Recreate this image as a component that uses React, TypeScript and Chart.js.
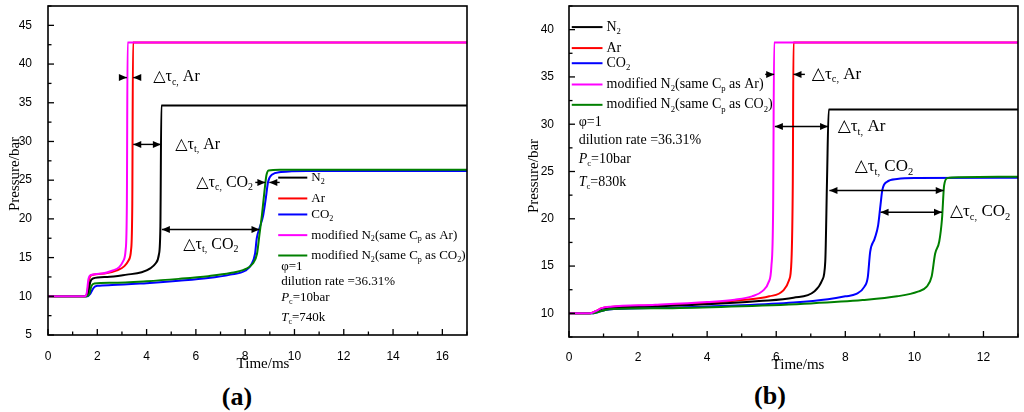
import { useEffect, useRef } from 'react';
import { Chart, registerables } from 'chart.js';

Chart.register(...registerables);

type Pt = [number, number];
type Seg = [string, ('s' | 'i')?];

const SERIF = "'Liberation Serif', 'Times New Roman', 'DejaVu Serif', serif";
const SANS = "'Liberation Sans', Arial, sans-serif";

// legend order: N2, Ar, CO2, modified N2 (Cp of Ar), modified N2 (Cp of CO2)
const seriesColors = ['#000000', '#ff0000', '#0000ff', '#ff00ff', '#008000'];
const legendLabels: Seg[][] = [
  [['N'], ['2', 's']],
  [['Ar']],
  [['CO'], ['2', 's']],
  [['modified N'], ['2', 's'], ['(same C'], ['p', 's'], [' as Ar)']],
  [['modified N'], ['2', 's'], ['(same C'], ['p', 's'], [' as CO'], ['2', 's'], [')']],
];
// first index is drawn on top
const drawOrder = [3, 4, 0, 1, 2];

// (a) Tc = 740 K, time in ms, pressure in bar
const aXTicks = [0, 2, 4, 6, 8, 10, 12, 14, 16];
const aYTicks = [5, 10, 15, 20, 25, 30, 35, 40, 45];
const aN2: Pt[] = [[0, 10], [1.55, 10], [1.64, 10.5], [1.71, 11.8], [1.82, 12.3], [2.4, 12.5], [3.2, 12.8], [3.8, 13.1], [4.15, 13.6], [4.38, 14.3], [4.5, 15.4], [4.56, 19], [4.6, 34.65], [17, 34.65]];
const aAr: Pt[] = [[0, 10], [1.5, 10], [1.59, 10.4], [1.67, 12.2], [1.78, 12.75], [2.3, 12.95], [2.8, 13.35], [3.1, 13.9], [3.28, 14.7], [3.37, 16], [3.42, 22], [3.45, 42.8], [17, 42.8]];
const aCO2: Pt[] = [[0, 10], [1.6, 10], [1.72, 10.35], [1.85, 11.1], [2.0, 11.35], [2.6, 11.45], [4, 11.7], [5.3, 12.0], [6.5, 12.35], [7.4, 12.8], [8, 13.3], [8.25, 14.1], [8.4, 15.5], [8.47, 17.5], [8.58, 18.8], [8.72, 20.3], [8.83, 22.5], [8.93, 24.8], [9.08, 25.7], [9.45, 26.05], [10.5, 26.2], [17, 26.2]];
const aModAr: Pt[] = [[0, 10], [1.48, 10], [1.57, 10.4], [1.64, 12.2], [1.74, 12.75], [2.2, 12.95], [2.6, 13.3], [2.9, 13.8], [3.06, 14.6], [3.15, 16], [3.2, 22], [3.23, 42.8], [17, 42.8]];
const aModCO2: Pt[] = [[0, 10], [1.58, 10], [1.68, 10.3], [1.76, 11.3], [1.88, 11.65], [2.6, 11.75], [4, 11.95], [5.3, 12.25], [6.5, 12.6], [7.4, 13], [8, 13.5], [8.3, 14.2], [8.48, 15.5], [8.58, 18], [8.68, 20.5], [8.78, 23.5], [8.86, 25.6], [8.95, 26.25], [9.4, 26.35], [17, 26.35]];

// (b) Tc = 830 K
const bXTicks = [0, 2, 4, 6, 8, 10, 12];
const bYTicks = [10, 15, 20, 25, 30, 35, 40];
const bN2: Pt[] = [[0, 10], [0.6, 10], [0.78, 10.2], [0.98, 10.5], [1.3, 10.6], [2.5, 10.75], [4, 10.95], [5.5, 11.3], [6.5, 11.65], [7.1, 12.3], [7.33, 13.5], [7.42, 15.5], [7.47, 24], [7.52, 31.55], [13, 31.55]];
const bAr: Pt[] = [[0, 10], [0.6, 10], [0.78, 10.25], [0.95, 10.55], [1.2, 10.68], [2.5, 10.85], [4, 11.1], [5, 11.4], [5.8, 11.8], [6.2, 12.4], [6.37, 13.5], [6.44, 15.5], [6.48, 24], [6.5, 38.65], [13, 38.65]];
const bCO2: Pt[] = [[0, 10], [0.65, 10], [0.85, 10.15], [1.05, 10.35], [1.3, 10.45], [3, 10.6], [5, 10.85], [6.5, 11.15], [7.5, 11.5], [8, 11.8], [8.32, 12.05], [8.55, 12.8], [8.65, 13.8], [8.72, 16.5], [8.85, 17.9], [8.95, 19.3], [9.02, 21.5], [9.07, 23], [9.2, 23.9], [9.5, 24.2], [10, 24.3], [13, 24.35]];
const bModAr: Pt[] = [[0, 10], [0.6, 10], [0.78, 10.25], [0.95, 10.55], [1.2, 10.7], [2.5, 10.9], [4, 11.2], [4.8, 11.45], [5.3, 11.8], [5.6, 12.35], [5.78, 13.3], [5.86, 15], [5.91, 21], [5.94, 38.65], [13, 38.65]];
const bModCO2: Pt[] = [[0, 10], [0.65, 10], [0.85, 10.15], [1.05, 10.35], [1.3, 10.45], [3, 10.55], [5, 10.75], [7, 11.05], [8.5, 11.4], [9.5, 11.8], [10.1, 12.3], [10.35, 12.8], [10.5, 13.9], [10.6, 16.3], [10.72, 17.6], [10.8, 20], [10.86, 23.5], [10.95, 24.3], [11.3, 24.4], [13, 24.45]];

function dtau(sub: string, gas: 'Ar' | 'CO2'): Seg[] {
  const tail: Seg[] = gas === 'Ar' ? [[' Ar']] : [[' CO'], ['2', 's']];
  return [['△τ'], [sub + ',', 's'], ...tail];
}

function infoText(tc: string): Seg[][] {
  return [
    [['φ=1']],
    [['dilution rate =36.31%']],
    [['P', 'i'], ['c', 's'], ['=10bar']],
    [['T', 'i'], ['c', 's'], ['=' + tc]],
  ];
}

// annotation arrows, in data units; "both" = double headed, otherwise head at "to"
type Arrow = { y: number; from: number; to: number; both?: boolean };
type Label = { x: number; y: number; segs: Seg[]; right?: boolean };

const aArrows: Arrow[] = [
  { y: 38.25, from: 2.9, to: 3.2 },
  { y: 38.25, from: 3.65, to: 3.46 },
  { y: 29.62, from: 3.46, to: 4.58, both: true },
  { y: 18.63, from: 4.62, to: 8.58, both: true },
  { y: 24.71, from: 8.41, to: 8.82 },
  { y: 24.71, from: 9.4, to: 8.98 },
];
const aLabels: Label[] = [
  { x: 4.27, y: 38.3, segs: dtau('c', 'Ar') },
  { x: 5.16, y: 29.6, segs: dtau('t', 'Ar') },
  { x: 5.49, y: 16.7, segs: dtau('t', 'CO2') },
  { x: 8.32, y: 24.7, segs: dtau('c', 'CO2'), right: true },
];
const aLegendX = [9.34, 10.52];
const aLegendY = [25.33, 22.64, 20.57, 17.9, 15.27];
const aInfoX = 9.46;
const aInfoY = [13.88, 11.86, 9.87, 7.2];

const bArrows: Arrow[] = [
  { y: 35.27, from: 5.68, to: 5.94 },
  { y: 35.27, from: 6.83, to: 6.5 },
  { y: 29.76, from: 5.96, to: 7.5, both: true },
  { y: 22.99, from: 7.54, to: 10.85, both: true },
  { y: 20.69, from: 9.02, to: 10.8, both: true },
];
const bLabels: Label[] = [
  { x: 7.03, y: 35.3, segs: dtau('c', 'Ar') },
  { x: 7.78, y: 29.76, segs: dtau('t', 'Ar') },
  { x: 8.27, y: 25.53, segs: dtau('t', 'CO2') },
  { x: 11.03, y: 20.77, segs: dtau('c', 'CO2') },
];
const bLegendX = [0.08, 0.97];
const bLegendY = [40.27, 38.05, 36.45, 34.2, 32.05];
const bInfoX = 0.28;
const bInfoY = [30.22, 28.26, 26.25, 23.87];

function drawRich(ctx: CanvasRenderingContext2D, segs: Seg[], x: number, y: number, size: number, right = false) {
  const parts = segs.map(([t, k]) => {
    const s = k === 's' ? size * 0.62 : size;
    const font = `${k === 'i' ? 'italic ' : ''}${s}px ${SERIF}`;
    ctx.font = font;
    return { t, k, font, w: ctx.measureText(t).width };
  });
  const total = parts.reduce((s, p) => s + p.w, 0);
  let cx = right ? x - total : x;
  ctx.textAlign = 'left';
  ctx.textBaseline = 'middle';
  for (const p of parts) {
    ctx.font = p.font;
    ctx.fillText(p.t, cx, p.k === 's' ? y + size * 0.32 : y);
    cx += p.w;
  }
}

function head(ctx: CanvasRenderingContext2D, x: number, y: number, dir: number) {
  ctx.beginPath();
  ctx.moveTo(x, y);
  ctx.lineTo(x - dir * 8, y - 3.5);
  ctx.lineTo(x - dir * 8, y + 3.5);
  ctx.closePath();
  ctx.fill();
}

const figurePlugin = {
  id: 'figure',
  afterDraw(chart: any, _args: any, opts: any) {
    const { ctx, chartArea: a } = chart;
    const xs = chart.scales.x;
    const ys = chart.scales.y;
    const px = (v: number) => xs.getPixelForValue(v);
    const py = (v: number) => ys.getPixelForValue(v);
    ctx.save();
    ctx.strokeStyle = '#000';
    ctx.fillStyle = '#000';

    // inward ticks, major ones carry labels
    ctx.lineWidth = 1.3;
    const ticks = (scale: any, minor: number, every: number, horiz: boolean) => {
      const n0 = Math.ceil(scale.min / minor - 1e-9);
      const n1 = Math.floor(scale.max / minor + 1e-9);
      for (let i = n0; i <= n1; i++) {
        const len = i % every === 0 ? 6 : 3.5;
        const p = scale.getPixelForValue(i * minor);
        ctx.beginPath();
        if (horiz) {
          ctx.moveTo(p, a.bottom);
          ctx.lineTo(p, a.bottom - len);
        } else {
          ctx.moveTo(a.left, p);
          ctx.lineTo(a.left + len, p);
        }
        ctx.stroke();
      }
    };
    ticks(xs, 1, 2, true);
    ticks(ys, 2.5, 2, false);

    // frame
    ctx.lineWidth = 1.6;
    ctx.strokeRect(a.left, a.top, a.right - a.left, a.bottom - a.top);

    // axis titles
    ctx.font = `15px ${SERIF}`;
    ctx.textAlign = 'center';
    ctx.textBaseline = 'middle';
    ctx.fillText('Time/ms', opts.xTitle[0], opts.xTitle[1]);
    ctx.save();
    ctx.translate(opts.yTitle[0], opts.yTitle[1]);
    ctx.rotate(-Math.PI / 2);
    ctx.fillText('Pressure/bar', 0, 0);
    ctx.restore();

    // arrows
    ctx.lineWidth = 1.4;
    for (const ar of opts.arrows as Arrow[]) {
      const x1 = px(ar.from);
      const x2 = px(ar.to);
      const y = py(ar.y);
      const dir = Math.sign(x2 - x1);
      ctx.beginPath();
      ctx.moveTo(x1, y);
      ctx.lineTo(x2, y);
      ctx.stroke();
      head(ctx, x2, y, dir);
      if (ar.both) head(ctx, x1, y, -dir);
    }
    for (const lb of opts.labels as Label[]) {
      drawRich(ctx, lb.segs, px(lb.x), py(lb.y), opts.labelSize, lb.right);
    }

    // legend
    const [lx1, lx2] = opts.legendX as number[];
    (opts.legendY as number[]).forEach((yv, i) => {
      const y = py(yv);
      ctx.strokeStyle = seriesColors[i];
      ctx.lineWidth = 2;
      ctx.beginPath();
      ctx.moveTo(px(lx1), y);
      ctx.lineTo(px(lx2), y);
      ctx.stroke();
      drawRich(ctx, legendLabels[i], px(lx2) + 4, y, opts.textSize);
    });
    (opts.infoY as number[]).forEach((yv, i) => {
      drawRich(ctx, opts.info[i], px(opts.infoX), py(yv), opts.textSize);
    });
    ctx.restore();
  },
};

type Panel = {
  series: Pt[][];
  xTicks: number[];
  yTicks: number[];
  xMax: number;
  yMin: number;
  yMax: number;
  arrows: Arrow[];
  labels: Label[];
  legendX: number[];
  legendY: number[];
  infoX: number;
  infoY: number[];
  info: Seg[][];
  left: number;
  yWidth: number;
  padRight: number;
  xHeight: number;
  yTickPad: number;
  xTickPad: number;
  xTitle: number[];
  yTitle: number[];
  labelSize: number;
  textSize: number;
  tag: string;
  tagPos: number[];
};

const panels: Panel[] = [
  {
    series: [aN2, aAr, aCO2, aModAr, aModCO2],
    xTicks: aXTicks, yTicks: aYTicks,
    xMax: 17, yMin: 5, yMax: 47.5,
    arrows: aArrows, labels: aLabels,
    legendX: aLegendX, legendY: aLegendY, infoX: aInfoX, infoY: aInfoY, info: infoText('740k'),
    left: 0, yWidth: 48, padRight: 45, xHeight: 39,
    yTickPad: 8, xTickPad: 6,
    xTitle: [263, 364], yTitle: [15, 174],
    labelSize: 16, textSize: 13,
    tag: 'a', tagPos: [237, 397],
  },
  {
    series: [bN2, bAr, bCO2, bModAr, bModCO2],
    xTicks: bXTicks, yTicks: bYTicks,
    xMax: 13, yMin: 7.5, yMax: 42.5,
    arrows: bArrows, labels: bLabels,
    legendX: bLegendX, legendY: bLegendY, infoX: bInfoX, infoY: bInfoY, info: infoText('830k'),
    left: 512, yWidth: 57, padRight: 6, xHeight: 37,
    yTickPad: 7, xTickPad: 5,
    xTitle: [286, 365], yTitle: [22, 176],
    labelSize: 17, textSize: 14,
    tag: 'b', tagPos: [770, 396],
  },
];

const fit = (size: 'width' | 'height', n: number) => (s: any) => {
  s[size] = n;
  s.paddingLeft = 0;
  s.paddingRight = 0;
  s.paddingTop = 0;
  s.paddingBottom = 0;
};

const useTicks = (vals: number[]) => (s: any) => {
  s.ticks = vals.map((value) => ({ value }));
};

function PanelChart({ p }: { p: Panel }) {
  const ref = useRef<HTMLCanvasElement | null>(null);

  useEffect(() => {
    if (!ref.current) return;
    const chart = new Chart(ref.current, {
      type: 'line',
      data: {
        datasets: drawOrder.map((i) => ({
          label: String(i),
          data: p.series[i] as any,
          borderColor: seriesColors[i],
          borderWidth: 2,
          pointRadius: 0,
          fill: false,
          cubicInterpolationMode: 'monotone' as const,
        })),
      },
      options: {
        animation: false,
        responsive: true,
        maintainAspectRatio: false,
        events: [],
        layout: { padding: { left: 0, top: 6, right: p.padRight, bottom: 0 } },
        plugins: {
          legend: { display: false },
          tooltip: { enabled: false },
          figure: p,
        } as any,
        scales: {
          x: {
            type: 'linear',
            min: 0,
            max: p.xMax,
            grid: { display: false },
            border: { display: false },
            ticks: {
              autoSkip: false,
              maxRotation: 0,
              padding: p.xTickPad,
              color: '#000',
              font: { family: SANS, size: 12 },
            },
            afterBuildTicks: useTicks(p.xTicks),
            afterFit: fit('height', p.xHeight),
          },
          y: {
            type: 'linear',
            min: p.yMin,
            max: p.yMax,
            grid: { display: false },
            border: { display: false },
            ticks: {
              autoSkip: false,
              padding: p.yTickPad,
              color: '#000',
              font: { family: SANS, size: 12 },
            },
            afterBuildTicks: useTicks(p.yTicks),
            afterFit: fit('width', p.yWidth),
          },
        },
      },
      plugins: [figurePlugin as any],
    });
    return () => chart.destroy();
  }, [p]);

  return (
    <>
      <div style={{ position: 'absolute', left: p.left, top: 0, width: 512, height: 374 }}>
        <canvas ref={ref} />
      </div>
      <div
        style={{
          position: 'absolute',
          left: p.tagPos[0],
          top: p.tagPos[1],
          transform: 'translate(-50%, -50%)',
          font: `bold 26px ${SERIF}`,
          color: '#000',
          lineHeight: 1,
        }}
      >
        ({p.tag})
      </div>
    </>
  );
}

export default function App() {
  return (
    <div style={{ position: 'absolute', left: 0, top: 0, width: 1024, height: 412, background: '#fff', overflow: 'hidden' }}>
      {panels.map((p) => (
        <PanelChart key={p.tag} p={p} />
      ))}
    </div>
  );
}
